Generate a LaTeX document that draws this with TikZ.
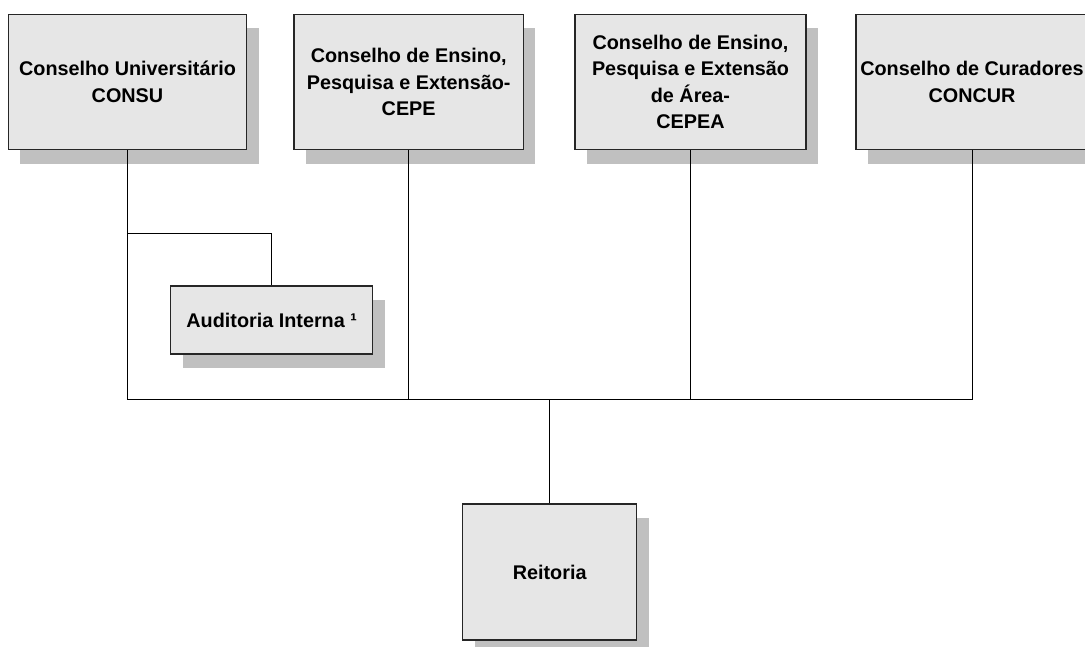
\documentclass[tikz,border=0pt]{standalone}
\usepackage{fontspec}
\setmainfont{Liberation Sans}
\usetikzlibrary{shadows}
\definecolor{boxfill}{HTML}{E6E6E6}
\definecolor{shadowgray}{HTML}{C0C0C0}
\definecolor{edge}{HTML}{262626}
\begin{document}
\begin{tikzpicture}[x=1pt,y=-1pt,
  orgbox/.style={draw=edge, line width=1.5pt, fill=boxfill, inner sep=0pt,
    align=center, font=\fontsize{19.8}{26.5}\selectfont\bfseries,
    drop shadow={shadow xshift=12pt, shadow yshift=-14pt, fill=shadowgray, opacity=1}},
  conn/.style={draw=black, line width=1pt}]
\useasboundingbox (0,0) rectangle (1085,646);
\clip (0,0) rectangle (1085,646);
\node[orgbox, minimum width=238.4pt, minimum height=135.4pt] (consu) at (127.5,82)
  {Conselho Universitário\\CONSU};
\node[orgbox, minimum width=229.3pt, minimum height=135.4pt] (cepe) at (408.7,82)
  {Conselho de Ensino,\\Pesquisa e Extensão-\\CEPE};
\node[orgbox, minimum width=231pt, minimum height=135.4pt] (cepea) at (690.5,82)
  {Conselho de Ensino,\\Pesquisa e Extensão\\de Área-\\CEPEA};
\node[orgbox, minimum width=232pt, minimum height=135.4pt] (concur) at (972,82)
  {Conselho de Curadores\\CONCUR};
\node[orgbox, minimum width=202pt, minimum height=68.3pt] (aud) at (271.7,320)
  {Auditoria Interna ¹};
\node[orgbox, minimum width=174pt, minimum height=136pt] (rei) at (549.7,572)
  {Reitoria};
\coordinate (bus) at (549.7,399);
\coordinate (br) at (127.5,233);
\draw[conn] (consu.south) -- (consu.south |- bus) -- (concur.south |- bus) -- (concur.south);
\draw[conn] (cepe.south) -- (cepe.south |- bus);
\draw[conn] (cepea.south) -- (cepea.south |- bus);
\draw[conn] (rei.north) -- (bus);
\draw[conn] (br) -| (aud.north);
\end{tikzpicture}
\end{document}
